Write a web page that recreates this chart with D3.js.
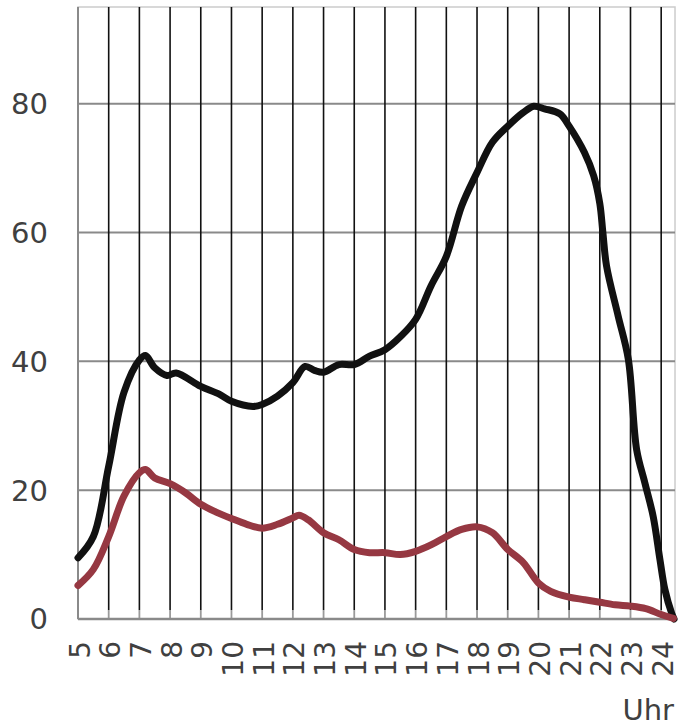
<!DOCTYPE html>
<html>
<head>
<meta charset="utf-8">
<script src="https://cdn.jsdelivr.net/npm/d3@7"></script>
<style>
	body { margin: 0; background: #fff; }
	.c-svg { width: 679px; height: 726px; }
	text { font-family: "DejaVu Sans", sans-serif; fill: #404040; }
</style>
</head>
<body>
<div class="c-svg"></div>
<script>
//DATA
//-------------------------------------------------------------------------

//hour ticks on x axis
const hourTicks = d3.range(5, 25);
const valueTicks = [0, 20, 40, 60, 80];

//black series (hours / values)
const blackHours = [5, 5.5, 6, 6.5, 7, 7.2, 7.5, 7.9, 8.2, 9, 9.6, 10, 10.7, 11, 11.5, 12, 12.4, 12.7, 13, 13.5, 14, 14.5, 15, 15.5, 16, 16.5, 17, 17.5, 18, 18.5, 19, 19.5, 19.85, 20.2, 20.7, 21, 21.5, 21.8, 22, 22.1, 22.22, 22.6, 22.93, 23.2, 23.47, 23.74, 23.96, 24.12, 24.34, 24.42];
const blackValues = [9.5, 12.8, 23.7, 35.2, 40.2, 40.9, 39.0, 37.8, 38.2, 36.1, 34.9, 33.8, 33.0, 33.3, 34.6, 36.7, 39.2, 38.6, 38.3, 39.5, 39.5, 40.8, 41.8, 43.8, 46.5, 51.7, 56.3, 64.1, 69.3, 74.0, 76.5, 78.6, 79.6, 79.2, 78.4, 76.5, 72.4, 68.8, 64.5, 60.0, 54.8, 47.0, 40.3, 26.3, 21.1, 15.9, 9.2, 4.6, 0.9, 0];

//red series (hours / values)
const redHours = [5, 5.5, 6, 6.5, 7, 7.2, 7.5, 8, 8.5, 9, 9.5, 10, 10.5, 11, 11.5, 12, 12.2, 12.5, 13, 13.5, 14, 14.5, 15, 15.5, 16, 16.5, 17, 17.5, 18, 18.5, 19, 19.5, 20, 20.4, 21, 21.5, 22, 22.5, 23, 23.5, 24, 24.4];
const redValues = [5.2, 7.7, 12.8, 19.1, 22.7, 23.2, 21.9, 21.0, 19.6, 17.8, 16.6, 15.6, 14.7, 14.1, 14.7, 15.7, 16.1, 15.4, 13.4, 12.3, 10.8, 10.3, 10.3, 10.0, 10.5, 11.5, 12.8, 13.9, 14.3, 13.4, 10.8, 8.8, 5.6, 4.3, 3.4, 3.0, 2.6, 2.2, 2.0, 1.6, 0.7, 0.1];

//INITIALISATION
//-------------------------------------------------------------------------

const opts = {
	width: 679,
	height: 726,
	margin: { top: 7, right: 4, bottom: 107, left: 78 }
};

const innerChart = {
	width: opts.width - opts.margin.left - opts.margin.right,
	height: opts.height - opts.margin.top - opts.margin.bottom
};

const svg = d3.select(".c-svg")
	.append("svg")
	.attr("width", opts.width)
	.attr("height", opts.height);

const g = svg.append("g")
	.attr("transform", `translate(${opts.margin.left} ${opts.margin.top})`);

//scales
const x = d3.scaleLinear()
	.domain([5, 24.45])
	.range([0, innerChart.width]);

const y = d3.scaleLinear()
	.domain([0, 95])
	.range([innerChart.height, 0]);

//GRID
//-------------------------------------------------------------------------

//frame (top / right light grey)
g.append("rect")
	.attr("x", 0)
	.attr("y", 0)
	.attr("width", innerChart.width)
	.attr("height", innerChart.height)
	.style("fill", "none")
	.style("stroke", "#cccccc")
	.style("stroke-width", 1.5);

//horizontal gridlines
g.append("g")
	.selectAll("line")
	.data(valueTicks)
	.join("line")
	.attr("x1", 0)
	.attr("x2", innerChart.width)
	.attr("y1", d => y(d))
	.attr("y2", d => y(d))
	.style("stroke", "#8a8a8a")
	.style("stroke-width", 2);

//vertical gridlines (black) + short grey ticks at the bottom
const vLines = g.append("g");
vLines.selectAll(".tick-grey")
	.data(hourTicks.slice(1))
	.join("line")
	.attr("class", "tick-grey")
	.attr("x1", d => x(d))
	.attr("x2", d => x(d))
	.attr("y1", innerChart.height - 9)
	.attr("y2", innerChart.height)
	.style("stroke", "#9a9a9a")
	.style("stroke-width", 1.8);

vLines.selectAll(".vgrid")
	.data(hourTicks.slice(1))
	.join("line")
	.attr("class", "vgrid")
	.attr("x1", d => x(d))
	.attr("x2", d => x(d))
	.attr("y1", 0)
	.attr("y2", innerChart.height - 9)
	.style("stroke", "#111")
	.style("stroke-width", 1.6);

//left axis line + bottom axis line
g.append("line")
	.attr("x1", 0).attr("x2", 0)
	.attr("y1", 0).attr("y2", innerChart.height)
	.style("stroke", "#8a8a8a")
	.style("stroke-width", 2);

g.append("line")
	.attr("x1", 0).attr("x2", innerChart.width)
	.attr("y1", innerChart.height).attr("y2", innerChart.height)
	.style("stroke", "#8a8a8a")
	.style("stroke-width", 2.5);

//AXES LABELS
//-------------------------------------------------------------------------

g.append("g")
	.selectAll("text")
	.data(valueTicks)
	.join("text")
	.attr("x", -30)
	.attr("y", d => y(d))
	.attr("dy", "0.36em")
	.attr("text-anchor", "end")
	.style("font-size", "29px")
	.text(d => d);

g.append("g")
	.selectAll("text")
	.data(hourTicks)
	.join("text")
	.attr("transform", d => `translate(${x(d) + 11.5} ${innerChart.height + 22}) rotate(-90)`)
	.attr("text-anchor", "end")
	.style("font-size", "28px")
	.text(d => d);

svg.append("text")
	.attr("x", 674)
	.attr("y", 720)
	.attr("text-anchor", "end")
	.style("font-size", "29px")
	.text("Uhr");

//LINES
//-------------------------------------------------------------------------

const line = d3.line()
	.x(d => x(d[0]))
	.y(d => y(d[1]))
	.curve(d3.curveCatmullRom.alpha(0.5));

g.append("path")
	.datum(d3.zip(blackHours, blackValues))
	.attr("d", line)
	.style("fill", "none")
	.style("stroke", "#111")
	.style("stroke-width", 7)
	.style("stroke-linecap", "round")
	.style("stroke-linejoin", "round");

g.append("path")
	.datum(d3.zip(redHours, redValues))
	.attr("d", line)
	.style("fill", "none")
	.style("stroke", "#963842")
	.style("stroke-width", 7)
	.style("stroke-linecap", "round")
	.style("stroke-linejoin", "round");
</script>
</body>
</html>
